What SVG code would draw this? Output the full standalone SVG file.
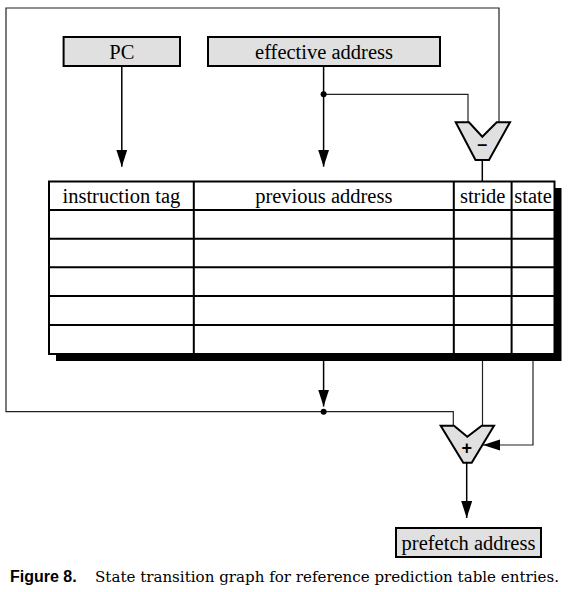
<svg xmlns="http://www.w3.org/2000/svg" width="570" height="592" viewBox="0 0 570 592">
<style>
.box{fill:#e0e0e0;stroke:#000;stroke-width:2}
.alu{fill:#e0e0e0;stroke:#000;stroke-width:2;stroke-linejoin:miter}
.lbl{font-family:"Liberation Serif",serif;font-size:20.5px;fill:#000}
.cell{stroke:#000;stroke-width:2;fill:none}
.wire{fill:none;stroke:#222;stroke-width:1.2}
.wire2{fill:none;stroke:#000;stroke-width:1.5}
.sym{font-family:"Liberation Sans",sans-serif;font-size:18px;font-weight:bold;fill:#000}
</style>
<defs>
<marker id="ah" markerUnits="userSpaceOnUse" markerWidth="18" markerHeight="12" viewBox="0 0 18 12" refX="17" refY="6" orient="auto">
<path d="M0,0.5 L17,6 L0,11.5 Z" fill="#000"/>
</marker>
</defs>
<g id="connectors">
<path class="wire" d="M499,122.3 V8 H6 V411.7 H453.3 V425.7"/>
<path class="wire2" d="M121.8,66 V166.7" marker-end="url(#ah)"/>
<path class="wire2" d="M323.6,66 V166.7" marker-end="url(#ah)"/>
<path class="wire" d="M323.6,94.3 H468 V122.3"/>
<circle cx="323.6" cy="94.3" r="3" fill="#000"/>
<path class="wire2" d="M482.3,160 V181"/>
<path class="wire2" d="M323.6,354 V406.5" marker-end="url(#ah)"/>
<circle cx="323.6" cy="411.7" r="3" fill="#000"/>
<path class="wire" d="M482.5,354 V425.7"/>
<path class="wire" d="M533,354 V445 H483" marker-end="url(#ah)"/>
<path class="wire2" d="M466.7,462.7 V518" marker-end="url(#ah)"/>
</g>
<g id="pc">
<rect class="box" x="63.6" y="37" width="116.4" height="29"/>
<text class="lbl" x="121.8" y="58.5" text-anchor="middle">PC</text>
</g>
<g id="effective-address">
<rect class="box" x="208" y="37" width="232" height="29"/>
<text class="lbl" x="324" y="58.5" text-anchor="middle">effective address</text>
</g>
<g id="subtract">
<polygon class="alu" points="455.7,122.3 469,122.3 482.3,136.7 496.7,122.3 510,122.3 489,160 475.5,160"/>
<text class="sym" x="482.3" y="150" text-anchor="middle">–</text>
</g>
<g id="table">
<rect x="56" y="188" width="505.5" height="173" fill="#000"/>
<rect x="49" y="181.5" width="505.5" height="172.5" fill="#fff" stroke="#000" stroke-width="2"/>
<path class="cell" d="M49,210 H554.5 M49,238.7 H554.5 M49,267.3 H554.5 M49,296 H554.5 M49,325 H554.5 M193.8,181.5 V354 M453.8,181.5 V354 M511.6,181.5 V354"/>
<text class="lbl" x="121.4" y="203" text-anchor="middle">instruction tag</text>
<text class="lbl" x="323.8" y="203" text-anchor="middle">previous address</text>
<text class="lbl" x="482.7" y="203" text-anchor="middle">stride</text>
<text class="lbl" x="533" y="203" text-anchor="middle">state</text>
</g>
<g id="add">
<polygon class="alu" points="440.7,425.7 454,425.7 467.3,436.7 481.7,425.7 494,425.7 471.7,462.7 463.3,462.7"/>
<text class="sym" x="466.7" y="453.5" text-anchor="middle">+</text>
</g>
<g id="prefetch-address">
<rect class="box" x="396" y="528" width="145" height="29"/>
<text class="lbl" x="468.5" y="549.5" text-anchor="middle">prefetch address</text>
</g>
<g id="caption">
<text x="10" y="582" font-family="Liberation Sans,sans-serif" font-size="16" font-weight="bold">Figure 8.</text>
<text x="95" y="582" font-family="DejaVu Serif,serif" font-size="14" textLength="464" lengthAdjust="spacingAndGlyphs">State transition graph for reference prediction table entries.</text>
</g>
</svg>
